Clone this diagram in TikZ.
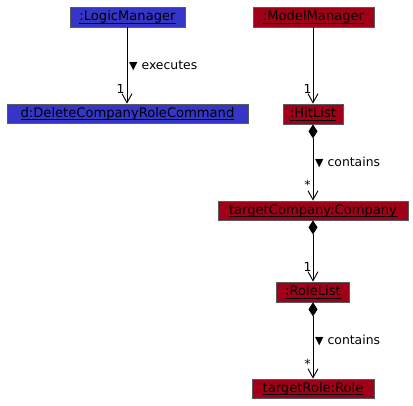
\documentclass[tikz,border=0pt]{standalone}
\usepackage{fontspec}
\setmainfont{DejaVu Sans}
\usetikzlibrary{arrows.meta}
\definecolor{lblue}{HTML}{3535C8}
\definecolor{mred}{HTML}{A00018}
\definecolor{bord}{HTML}{5A5A5A}
\newsavebox\ulbox
\newcommand{\ulname}[1]{\sbox\ulbox{#1}\rlap{\rule[-2.7pt]{\wd\ulbox}{0.8pt}}\usebox\ulbox}
\tikzset{
  obj/.style={draw=bord, line width=0.8pt, inner sep=0pt, text height=7.4pt, text depth=0pt,
    font=\fontsize{13.1}{15}\selectfont, text=black},
  lgc/.style={obj, fill=lblue},
  mdl/.style={obj, fill=mred},
  assoc/.style={line width=0.9pt, -{Straight Barb[length=9pt,width=10pt]}},
  comp/.style={line width=0.9pt, {Diamond[length=14pt,width=9pt]}-{Straight Barb[length=9pt,width=10pt]}},
  lbl/.style={font=\fontsize{12.4}{15}\selectfont, inner sep=0pt},
  mult/.style={font=\fontsize{12.5}{14}\selectfont, inner sep=0pt}
}
\newcommand{\tri}{{\fontsize{11}{12}\selectfont ▼}}
\begin{document}
\begin{tikzpicture}[x=1pt,y=-1pt]
\useasboundingbox (0,0) rectangle (413,405);
\node[lgc, minimum width=115pt, minimum height=20pt] (lm) at (127.5,17) {\ulname{:LogicManager}};
\node[lgc, minimum width=241pt, minimum height=19pt] (dc) at (127.5,113.5) {\ulname{d:DeleteCompanyRoleCommand}};
\node[mdl, minimum width=121pt, minimum height=20pt] (mm) at (313.5,17) {\ulname{:ModelManager}};
\node[mdl, minimum width=60pt, minimum height=20pt] (hl) at (313,114) {\ulname{:HitList}};
\node[mdl, minimum width=190pt, minimum height=19pt] (tc) at (313,210.5) {\ulname{targetCompany:Company}};
\node[mdl, minimum width=73pt, minimum height=20pt] (rl) at (313,292) {\ulname{:RoleList}};
\node[mdl, minimum width=122pt, minimum height=19pt] (tr) at (313,388.5) {\ulname{targetRole:Role}};

\draw[assoc] (lm.south -| 127,0) -- (dc.north -| 127,0);
\draw[assoc] (mm.south -| 313,0) -- (hl.north -| 313,0);
\draw[comp] (hl.south -| 313,0) -- (tc.north -| 313,0);
\draw[comp] (tc.south -| 313,0) -- (rl.north -| 313,0);
\draw[comp] (rl.south -| 313,0) -- (tr.north -| 313,0);

\node[lbl, anchor=west] (l1) at (129,66) {\tri\ executes};
\node[lbl, anchor=west] (l2) at (315,162) {\tri\ contains};
\node[lbl, anchor=west] (l3) at (315,340) {\tri\ contains};
\node[mult] (m1) at (120.5,89) {1};
\node[mult] (m2) at (307.5,89) {1};
\node[mult] (m3) at (307.5,185) {*};
\node[mult] (m4) at (307.5,267) {1};
\node[mult] (m5) at (307.5,364) {*};
\end{tikzpicture}
\end{document}
